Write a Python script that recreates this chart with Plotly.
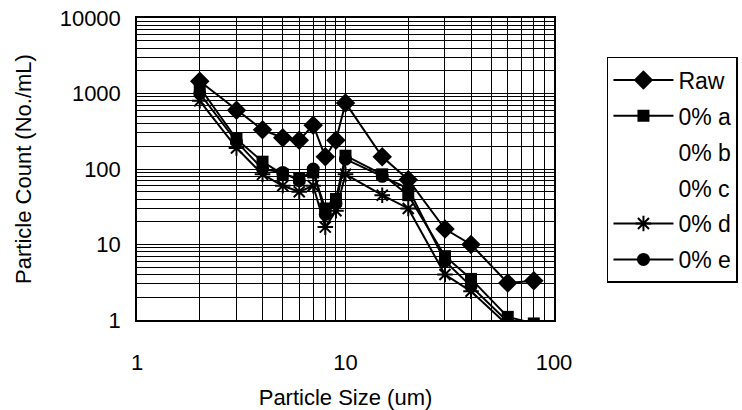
import plotly.graph_objects as go

particle_size = [2, 3, 4, 5, 6, 7, 8, 9, 10, 15, 20, 30, 40, 60, 80]
raw = [1450, 600, 330, 260, 240, 380, 145, 240, 750, 145, 72, 16, 10, 3.1, 3.3]
pct0_a = [1200, 250, 125, 85, 75, 90, 30, 40, 150, 85, 45, 7, 3.5, 1.1, 0.9]
pct0_e = [1000, 230, 100, 90, 70, 100, 25, 35, 135, 80, 55, 6, 2.8, 0.95, 0.8]
pct0_d = [800, 190, 85, 60, 50, 60, 17, 28, 85, 45, 30, 4, 2.4, 0.85, 0.7]

x_tick_vals = [1, 10, 100]
x_tick_text = ["1", "10", "100"]
y_tick_vals = [1, 10, 100, 1000, 10000]
y_tick_text = ["1", "10", "100", "1000", "10000"]

minor_x = [m * d for d in [1, 10] for m in range(2, 10)]
minor_y = [m * d for d in [1, 10, 100, 1000] for m in range(2, 10)]

FONT = "Liberation Sans, Arial, sans-serif"

fig = go.Figure()

def add(name, ys, symbol, size, grp):
    fig.add_trace(go.Scatter(
        x=particle_size, y=ys, name=name, mode="lines+markers",
        line=dict(color="black", width=2),
        marker=dict(symbol=symbol, size=size, color="black",
                    line=dict(color="black", width=2 if "asterisk" in symbol else 0)),
        legendgroup=grp, cliponaxis=True,
    ))

add("Raw", raw, "diamond", 15, "g1")
add("0% a", pct0_a, "square", 12, "g2")
fig.add_trace(go.Scatter(x=[None], y=[None], name="0% b", mode="lines",
                         line=dict(color="rgba(0,0,0,0)"), legendgroup="g3"))
fig.add_trace(go.Scatter(x=[None], y=[None], name="0% c", mode="lines",
                         line=dict(color="rgba(0,0,0,0)"), legendgroup="g4"))
add("0% d", pct0_d, "asterisk-open", 13, "g5")
add("0% e", pct0_e, "circle", 13, "g6")

axis_common = dict(
    type="log", showline=True, mirror=True, linecolor="black", linewidth=1.5,
    showgrid=True, gridcolor="black", gridwidth=1, ticks="", zeroline=False,
    automargin=False,
    tickfont=dict(family=FONT, size=22, color="black"),
)

fig.update_xaxes(
    **axis_common, range=[0, 2], tickmode="array",
    tickvals=x_tick_vals, ticktext=x_tick_text,
    minor=dict(tickvals=minor_x, showgrid=True, gridcolor="black", gridwidth=1, ticks=""),
    ticklabelstandoff=22,
    title=dict(text="Particle Size (um)", font=dict(family=FONT, size=22, color="black"), standoff=20),
)
fig.update_yaxes(
    **axis_common, range=[0, 4], tickmode="array",
    tickvals=y_tick_vals, ticktext=y_tick_text,
    minor=dict(tickvals=minor_y, showgrid=True, gridcolor="black", gridwidth=1, ticks=""),
    ticklabelstandoff=10,
    title=dict(text="Particle Count (No./mL)", font=dict(family=FONT, size=22, color="black"), standoff=22),
)

fig.update_layout(
    width=742, height=410,
    margin=dict(l=137, r=188, t=18, b=90, autoexpand=False),
    paper_bgcolor="white", plot_bgcolor="white",
    font=dict(family=FONT, color="black"),
    legend=dict(
        x=1.127, y=0.871, xanchor="left", yanchor="top",
        bordercolor="black", borderwidth=1.5, bgcolor="white",
        font=dict(family=FONT, size=23, color="black"),
        itemwidth=60, tracegroupgap=3, traceorder="grouped",
    ),
    showlegend=True,
)

fig.write_html("out.html")
